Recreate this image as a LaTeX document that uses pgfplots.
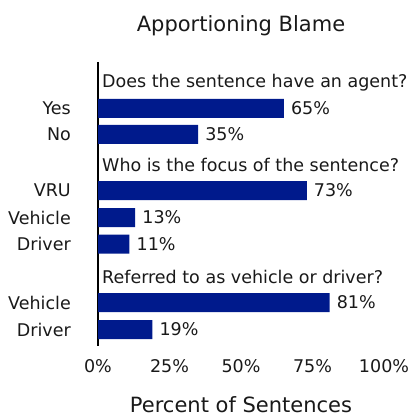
\documentclass[border=0pt]{standalone}
\usepackage{pgfplots}
\pgfplotsset{compat=1.18}
\usepackage{fontspec}
\setmainfont{DejaVu Sans}
\definecolor{barblue}{RGB}{0,26,140}
\definecolor{txt}{RGB}{25,25,25}
\begin{document}
\begin{tikzpicture}[x=1pt,y=1pt]
\useasboundingbox (0,0) rectangle (414,417);
\begin{axis}[
  at={(98pt,71pt)}, anchor=south west,
  scale only axis, width=286pt, height=284pt,
  xmin=0, xmax=100, ymin=62, ymax=346, y dir=reverse,
  xbar, bar width=19pt,
  axis lines*=left,
  x axis line style={draw=none},
  y axis line style={line width=1.8pt, black},
  xtick={0,25,50,75,100},
  xticklabels={0\%,25\%,50\%,75\%,100\%},
  ytick={108.5,134.5,190.5,217.5,244,302.5,329.5},
  yticklabels={Yes,No,VRU,Vehicle,Driver,Vehicle,Driver},
  major tick length=0pt,
  /pgf/number format/assume math mode=true,
  tick label style={font=\fontsize{17.5}{18}\selectfont, text=txt},
  yticklabel style={anchor=east, inner sep=0pt, xshift=-27pt},
  xticklabel style={anchor=north, inner sep=0pt, yshift=-13pt},
  title={Apportioning Blame},
  title style={font=\fontsize{21}{22}\selectfont, text=txt, anchor=base, at={(axis description cs:0.5,1)}, yshift=24pt},
  xlabel={Percent of Sentences},
  xlabel style={font=\fontsize{21}{22}\selectfont, text=txt, anchor=base, at={(axis description cs:0.5,0)}, yshift=-66pt},
  point meta=x,
  nodes near coords={\pgfmathprintnumber{\pgfplotspointmeta}\%},
  nodes near coords style={anchor=west, inner sep=0pt, xshift=7pt, font=\fontsize{17.5}{18}\selectfont, text=txt},
  clip=false,
]
\addplot[fill=barblue, draw=none] coordinates {
  (65,108.5) (35,134.5) (73,190.5) (13,217.5) (11,244) (81,302.5) (19,329.5)
};
\node[anchor=base west, inner sep=0pt, font=\fontsize{17.5}{18}\selectfont, text=txt] at (axis cs:1.4,88) {Does the sentence have an agent?};
\node[anchor=base west, inner sep=0pt, font=\fontsize{17.5}{18}\selectfont, text=txt] at (axis cs:1.4,171.5) {Who is the focus of the sentence?};
\node[anchor=base west, inner sep=0pt, font=\fontsize{17.5}{18}\selectfont, text=txt] at (axis cs:1.4,283) {Referred to as vehicle or driver?};
\end{axis}
\end{tikzpicture}
\end{document}
